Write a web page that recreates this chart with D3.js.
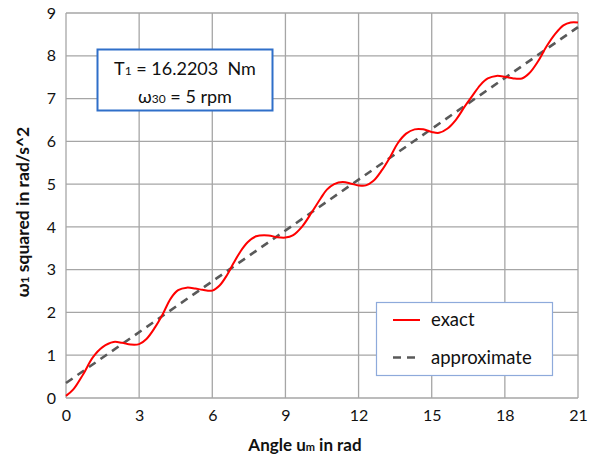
<!DOCTYPE html>
<html>
<head>
<meta charset="utf-8">
<script src="https://cdn.jsdelivr.net/npm/d3@7"></script>
<style>
  html, body { margin: 0; padding: 0; background: #fff; }
  svg { display: block; font-family: "Lato", "Open Sans", sans-serif; }
</style>
</head>
<body>
<svg id="chart" width="600" height="458"></svg>
<script>
// Angle u_m in rad and omega_1 squared (exact solution)
const angleExact = [0, 0.3, 0.7, 1.1, 1.5, 1.95, 2.3, 2.65, 3.0, 3.3, 3.65, 3.95, 4.3, 4.6, 4.95, 5.3, 5.6,
  6.0, 6.3, 6.6, 6.85, 7.15, 7.45, 7.8, 8.3, 8.65, 9.0, 9.3, 9.7, 10.1, 10.45, 10.7, 11.0, 11.35, 11.7,
  12.0, 12.3, 12.6, 12.95, 13.3, 13.6, 13.95, 14.3, 14.65, 15.0, 15.3, 15.65, 16.0, 16.35, 16.65, 17.0,
  17.3, 17.65, 18.0, 18.35, 18.7, 19.0, 19.35, 19.7, 20.05, 20.4, 20.7, 21.0];
const omegaSqExact = [0.05, 0.2, 0.55, 0.95, 1.19, 1.31, 1.29, 1.25, 1.26, 1.38, 1.65, 1.94, 2.33, 2.52, 2.58, 2.56, 2.53,
  2.51, 2.63, 2.87, 3.13, 3.42, 3.64, 3.78, 3.80, 3.76, 3.75, 3.80, 4.02, 4.36, 4.67, 4.87, 5.00, 5.05, 5.01,
  4.97, 4.97, 5.07, 5.32, 5.64, 5.95, 6.18, 6.28, 6.28, 6.22, 6.20, 6.30, 6.51, 6.81, 7.05, 7.32,
  7.47, 7.53, 7.51, 7.47, 7.47, 7.59, 7.86, 8.21, 8.50, 8.71, 8.78, 8.78];

// Approximate (linear) solution
const angleApprox = [0, 21];
const omegaSqApprox = [0.35, 8.67];

const xTicks = [0, 3, 6, 9, 12, 15, 18, 21];
const yTicks = [0, 1, 2, 3, 4, 5, 6, 7, 8, 9];

const seriesNames = ["exact", "approximate"];
const infoLines = [
  { main: "T", sub: "1", rest: " = 16.2203\u00a0\u00a0Nm" },
  { main: "\u03c9", sub: "30", rest: " = 5 rpm" }
];

const svg = d3.select("#chart");
const margin = { left: 66, right: 22, top: 13, bottom: 60 };
const W = 600, H = 458;
const x = d3.scaleLinear().domain([0, 21]).range([margin.left, W - margin.right]);
const y = d3.scaleLinear().domain([0, 9]).range([H - margin.bottom, margin.top]);

const gridColor = "#a6a6a6";
const textColor = "#111";

// grid
svg.append("g").selectAll("line").data(xTicks).join("line")
  .attr("x1", d => x(d)).attr("x2", d => x(d))
  .attr("y1", y(0)).attr("y2", y(9))
  .attr("stroke", gridColor).attr("stroke-width", 1.3);
svg.append("g").selectAll("line").data(yTicks).join("line")
  .attr("x1", x(0)).attr("x2", x(21))
  .attr("y1", d => y(d)).attr("y2", d => y(d))
  .attr("stroke", gridColor).attr("stroke-width", 1.3);

// axes (labels only)
const xAxis = svg.append("g").attr("transform", `translate(0,${y(0)})`)
  .call(d3.axisBottom(x).tickValues(xTicks).tickSize(0).tickPadding(12));
const yAxis = svg.append("g").attr("transform", `translate(${x(0)},0)`)
  .call(d3.axisLeft(y).tickValues(yTicks).tickSize(0).tickPadding(10));
[xAxis, yAxis].forEach(g => {
  g.select(".domain").remove();
  g.selectAll("text").attr("font-size", 16).attr("fill", textColor)
    .attr("font-family", "Lato, 'Open Sans', sans-serif");
});

// lines
const lineGen = d3.line().x(d => x(d[0])).y(d => y(d[1]));
const exactPts = angleExact.map((a, i) => [a, omegaSqExact[i]]);
const approxPts = angleApprox.map((a, i) => [a, omegaSqApprox[i]]);

svg.append("path").datum(approxPts)
  .attr("d", lineGen)
  .attr("fill", "none").attr("stroke", "#595959")
  .attr("stroke-width", 2.6).attr("stroke-dasharray", "8,6");

svg.append("path").datum(exactPts)
  .attr("d", lineGen.curve(d3.curveCatmullRom.alpha(0.5)))
  .attr("fill", "none").attr("stroke", "#ff0000")
  .attr("stroke-width", 2);

// axis titles
const xTitle = svg.append("text")
  .attr("x", 305).attr("y", 451)
  .attr("text-anchor", "middle").attr("font-size", 17).attr("font-weight", "bold").attr("fill", textColor);
xTitle.append("tspan").text("Angle u");
xTitle.append("tspan").attr("font-size", 11).text("m");
xTitle.append("tspan").text(" in rad");

const yTitle = svg.append("text")
  .attr("transform", "translate(29,212) rotate(-90)")
  .attr("text-anchor", "middle").attr("font-size", 17.5).attr("font-weight", "bold").attr("fill", textColor);
yTitle.append("tspan").text("\u03c9");
yTitle.append("tspan").attr("font-size", 12).text("1");
yTitle.append("tspan").text(" squared in rad/s^2");

// parameter box
const info = svg.append("g");
info.append("rect").attr("x", 97.5).attr("y", 49.5).attr("width", 175).attr("height", 61)
  .attr("fill", "#fff").attr("stroke", "#2f6fc9").attr("stroke-width", 2);
infoLines.forEach((ln, i) => {
  const t = info.append("text").attr("x", 185).attr("y", 74.5 + i * 28)
    .attr("text-anchor", "middle").attr("font-size", 18).attr("fill", textColor);
  t.append("tspan").text(ln.main);
  t.append("tspan").attr("font-size", 12).text(ln.sub);
  t.append("tspan").text(ln.rest);
});

// legend
const leg = svg.append("g");
leg.append("rect").attr("x", 376.5).attr("y", 302.5).attr("width", 176).attr("height", 73)
  .attr("fill", "#fff").attr("stroke", "#8eaadb").attr("stroke-width", 1.2);
const legStyles = [
  { stroke: "#ff0000", width: 2, dash: null },
  { stroke: "#595959", width: 2.6, dash: "8,6" }
];
seriesNames.forEach((name, i) => {
  const yy = 320 + i * 37.5;
  leg.append("line").attr("x1", 393).attr("x2", 420).attr("y1", yy).attr("y2", yy)
    .attr("stroke", legStyles[i].stroke).attr("stroke-width", legStyles[i].width)
    .attr("stroke-dasharray", legStyles[i].dash);
  leg.append("text").attr("x", 431).attr("y", yy + 6)
    .attr("font-size", 18.5).attr("fill", textColor).text(name);
});
</script>
</body>
</html>
